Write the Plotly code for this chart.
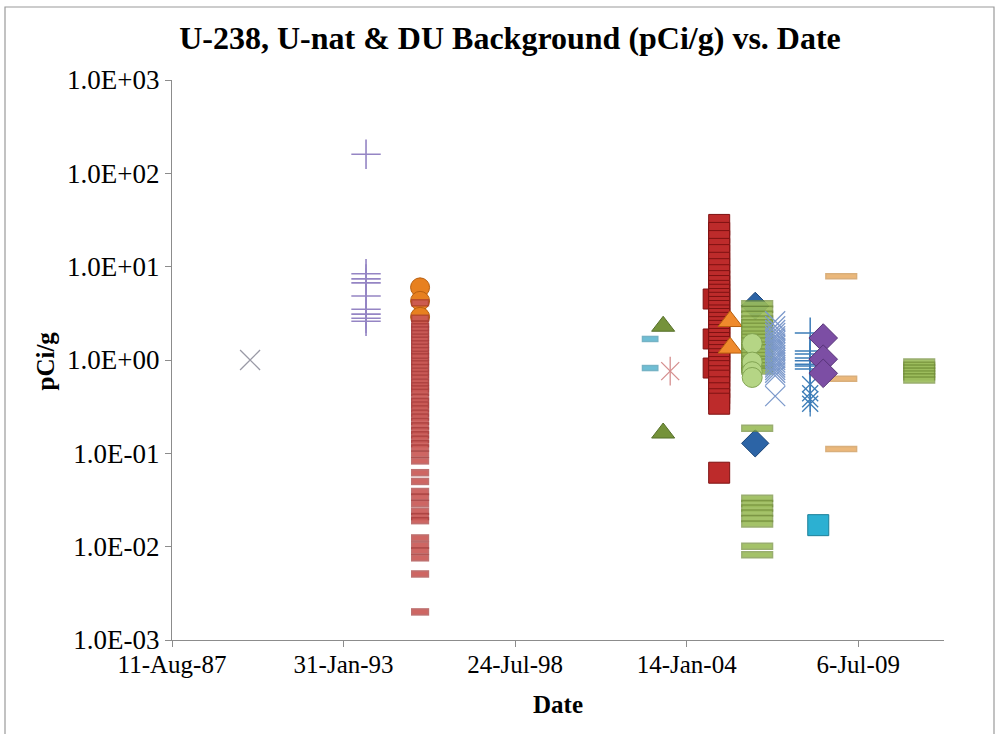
import plotly.graph_objects as go

# ---------------- data (dates, pCi/g) ----------------
y_tickvals = [1e-3, 1e-2, 1e-1, 1e0, 1e1, 1e2, 1e3]
y_ticktext = ["1.0E-03", "1.0E-02", "1.0E-01", "1.0E+00", "1.0E+01", "1.0E+02", "1.0E+03"]
x_tickvals = ["1987-08-11", "1993-01-31", "1998-07-24", "2004-01-14", "2009-07-06"]
x_ticktext = ["11-Aug-87", "31-Jan-93", "24-Jul-98", "14-Jan-04", "6-Jul-09"]
x_range = ["1987-08-11", "2012-04-01"]

gray_x_date = "1990-02-06"
gray_x_vals = [1.0]

lav_plus_date = "1993-10-20"
lav_plus_vals = [160, 8.4, 7.4, 6.7, 4.85, 3.5, 3.1, 2.8, 2.6]

orange_circle_date = "1995-07-12"
orange_circle_vals = [6.0, 4.3, 2.9]

red_dash_date = "1995-07-12"
red_dash_vals = [4.1, 2.8, 2.43, 2.27, 2.1, 1.92, 1.76, 1.63, 1.49, 1.37, 1.26, 1.15,
                 1.08, 0.97, 0.91, 0.83, 0.76, 0.7, 0.64, 0.58, 0.53, 0.49, 0.45,
                 0.4, 0.36, 0.33, 0.3, 0.27, 0.245, 0.22, 0.197, 0.175, 0.158,
                 0.142, 0.127, 0.114, 0.098, 0.083, 0.062, 0.05, 0.039, 0.034,
                 0.029, 0.024, 0.021, 0.019, 0.0124, 0.0104, 0.009, 0.0076,
                 0.0051, 0.002]

cyan_dash_date = "2002-11-14"
cyan_dash_vals = [1.68, 0.82]

green_tri_date = "2003-04-15"
green_tri_vals = [2.3, 0.165]

red_star_date = "2003-07-06"
red_star_vals = [0.76]

red_sq_early_date = "2004-11-18"
red_sq_early_vals = [4.5, 1.68, 0.82]

red_sq_date = "2005-01-27"
red_sq_vals = [28, 23, 18.8, 15.5, 13.3, 11, 9.4, 8.1, 7.0, 6.2, 5.5, 5.0, 4.5, 4.1,
               3.7, 3.35, 3.0, 2.75, 2.5, 2.25, 2.05, 1.85, 1.68, 1.52, 1.38, 1.25,
               1.13, 1.02, 0.93, 0.84, 0.76, 0.67, 0.6, 0.51, 0.44, 0.38, 0.34, 0.062]

orange_tri_date = "2005-06-04"
orange_tri_vals = [2.6, 1.35]

blue_dia_date = "2006-03-23"
blue_dia_vals = [3.8, 0.128]

green_dash_date = "2006-04-15"
green_dash_vals = [4.0, 3.5, 3.1, 2.75, 2.5, 2.3, 2.1, 1.9, 1.75, 1.6, 1.45, 1.35,
                   1.22, 1.12, 1.02, 0.95, 0.87, 0.8, 0.76, 0.186, 0.033, 0.029,
                   0.026, 0.023, 0.02, 0.0175, 0.0101, 0.0082]

green_circle_date = "2006-02-16"
green_circle_vals = [1.5, 0.95, 0.75, 0.65]

blue_x_date = "2006-11-11"
blue_x_vals = [2.6, 2.3, 2.1, 1.95, 1.8, 1.7, 1.6, 1.5, 1.42, 1.35, 1.28, 1.2, 1.12,
               1.05, 1.0, 0.94, 0.88, 0.83, 0.78, 0.73, 0.68, 0.41]

blue_plus_date = "2007-12-24"
blue_plus_vals = [1.95, 1.25, 1.16, 1.05, 0.98, 0.9, 0.86, 0.8]
blue_star_vals = [0.55, 0.44, 0.38, 0.34]

tan_dash_date = "2008-12-20"
tan_dash_vals = [7.9, 0.63, 0.111]

purple_dia_date = "2008-05-24"
purple_dia_vals = [1.72, 1.02, 0.72]

cyan_sq_date = "2008-03-27"
cyan_sq_vals = [0.017]

green_block_date = "2011-06-17"
green_block_vals = [0.95, 0.88, 0.82, 0.76, 0.71, 0.66, 0.61]


def pts(date, vals):
    return [date] * len(vals), vals


fig = go.Figure()


def add_markers(date, vals, symbol, size, color, line_color=None, line_width=1.0):
    xs, ys = pts(date, vals)
    fig.add_trace(go.Scatter(
        x=xs, y=ys, mode="markers", showlegend=False, hoverinfo="skip",
        marker=dict(symbol=symbol, size=size, color=color,
                    line=dict(color=line_color or color, width=line_width)),
    ))


def add_dash(date, vals, length, thick, color, edge):
    # flat bar markers; each bar is a darker rim followed by its lighter face,
    # so stacked bars keep their outlines
    xs, ys, sizes, widths, colors = [], [], [], [], []
    for v in vals:
        xs += [date, date]
        ys += [v, v]
        sizes += [length + 1, length - 1]
        widths += [thick + 1.5, thick - 1.5]
        colors += [edge, color]
    fig.add_trace(go.Scatter(
        x=xs, y=ys, mode="markers", showlegend=False, hoverinfo="skip",
        marker=dict(symbol="line-ew-open", size=sizes, color=colors,
                    line=dict(color=colors, width=widths)),
    ))


def add_asterisk(date, vals, size, color, width):
    add_markers(date, vals, "x-thin-open", size, color, color, width)
    add_markers(date, vals, "line-ns-open", size * 1.15, color, color, width)


add_markers(gray_x_date, gray_x_vals, "x-thin-open", 20, "#9a9aa6", "#9a9aa6", 1.3)
add_markers(lav_plus_date, lav_plus_vals, "cross-thin-open", 21, "#9585c4", "#9585c4", 1.6)
add_markers(orange_circle_date, orange_circle_vals, "circle", 19, "#e7801f", "#b85f10", 1)
add_dash(red_dash_date, red_dash_vals, 12, 6, "#d4625e", "#a33533")
add_dash(cyan_dash_date, cyan_dash_vals, 11, 5, "#6cc3dc", "#3a93ad")
add_markers(green_tri_date, green_tri_vals, "triangle-up", 20, "#75923a", "#56702a", 1)
add_asterisk(red_star_date, red_star_vals, 18, "#d58e8e", 1.3)
add_markers(red_sq_early_date, red_sq_early_vals, "square", 20, "#b42323", "#7e1212", 1)
add_markers(red_sq_date, red_sq_vals, "square", 21, "#bd2b2b", "#7e1212", 1)
add_markers(orange_tri_date, orange_tri_vals, "triangle-up", 21, "#ef8a2c", "#b8600f", 1)
add_markers(blue_dia_date, blue_dia_vals, "diamond", 21, "#2c64a6", "#1a4476", 1)
add_dash(green_dash_date, green_dash_vals, 22, 6, "#a8cb66", "#6f8c33")
add_markers(green_circle_date, green_circle_vals, "circle", 20, "#b5d585", "#83a553", 1)
add_markers(blue_x_date, blue_x_vals, "x-thin-open", 20, "#7c99cb", "#7c99cb", 1.3)
add_markers(blue_plus_date, blue_plus_vals, "cross-thin-open", 22, "#3d7db8", "#3d7db8", 1.5)
add_asterisk(blue_plus_date, blue_star_vals, 16, "#3d7db8", 1.3)
add_dash(tan_dash_date, tan_dash_vals, 22, 5, "#f2bc7a", "#c98d45")
add_markers(purple_dia_date, purple_dia_vals, "diamond", 22, "#7c4ea4", "#573478", 1)
add_markers(cyan_sq_date, cyan_sq_vals, "square", 21, "#2cb0d2", "#1b7f98", 1)
add_dash(green_block_date, green_block_vals, 22, 6, "#a8cb66", "#6f8c33")

font_family = "Liberation Serif, Times New Roman, serif"

fig.update_layout(
    width=1000, height=734,
    margin=dict(l=172, r=56, t=80, b=94),
    paper_bgcolor="white", plot_bgcolor="white",
    font=dict(family=font_family, color="black"),
    title=dict(text="<b>U-238, U-nat & DU Background (pCi/g) vs. Date</b>",
               x=0.51, xref="container", xanchor="center", y=0.948, yanchor="middle",
               font=dict(size=32, family=font_family)),
    xaxis=dict(type="date", range=x_range, tickvals=x_tickvals, ticktext=x_ticktext,
               showgrid=False, zeroline=False, showline=True, linecolor="#8c8c8c",
               linewidth=1, ticks="outside", ticklen=6, tickcolor="#8c8c8c",
               ticklabelstandoff=-4,
               tickfont=dict(size=25, family=font_family)),
    yaxis=dict(type="log", range=[-3, 3], tickvals=y_tickvals, ticktext=y_ticktext,
               showgrid=False, zeroline=False, showline=True, linecolor="#8c8c8c",
               linewidth=1, ticks="outside", ticklen=6, tickcolor="#8c8c8c",
               tickfont=dict(size=27, family=font_family)),
    annotations=[
        dict(text="<b>Date</b>", xref="paper", yref="paper",
             x=0.5, y=-0.115, xanchor="center", yanchor="middle", showarrow=False,
             font=dict(size=25, family=font_family)),
        dict(text="<b>pCi/g</b>", xref="paper", yref="paper", textangle=-90,
             x=-0.164, y=0.498, xanchor="center", yanchor="middle", showarrow=False,
             font=dict(size=25, family=font_family)),
    ],
    shapes=[
        dict(type="rect", xref="paper", yref="paper",
             x0=(5 - 172) / 772, x1=(994 - 172) / 772,
             y0=(640 - 745) / 560, y1=(640 - 7) / 560,
             line=dict(color="#9a9a9a", width=1.2), layer="below"),
    ],
)

fig.write_html("out.html")
